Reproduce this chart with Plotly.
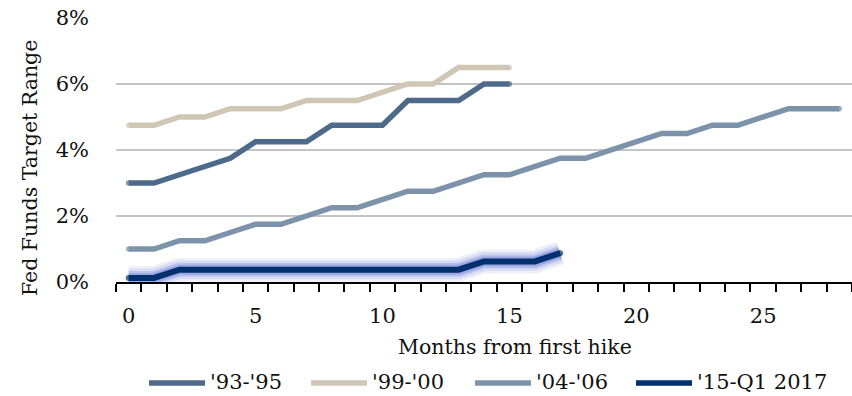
import plotly.graph_objects as go

# Fed funds target (midpoint of range, %) by months since the first hike
series_names = ["'93-'95", "'99-'00", "'04-'06", "'15-Q1 2017"]
rates_93_95 = [3.0, 3.0, 3.25, 3.5, 3.75, 4.25, 4.25, 4.25, 4.75, 4.75, 4.75,
               5.5, 5.5, 5.5, 6.0, 6.0]
rates_99_00 = [4.75, 4.75, 5.0, 5.0, 5.25, 5.25, 5.25, 5.5, 5.5, 5.5, 5.75,
               6.0, 6.0, 6.5, 6.5, 6.5]
rates_04_06 = [1.0, 1.0, 1.25, 1.25, 1.5, 1.75, 1.75, 2.0, 2.25, 2.25, 2.5,
               2.75, 2.75, 3.0, 3.25, 3.25, 3.5, 3.75, 3.75, 4.0, 4.25, 4.5,
               4.5, 4.75, 4.75, 5.0, 5.25, 5.25, 5.25]
rates_15_17 = [0.125, 0.125, 0.375, 0.375, 0.375, 0.375, 0.375, 0.375, 0.375,
               0.375, 0.375, 0.375, 0.375, 0.375, 0.625, 0.625, 0.625, 0.875]

x_tick_labels = [0, 5, 10, 15, 20, 25]
y_tick_values = [0, 2, 4, 6, 8]

colors = ["#4e6a8b", "#d0c6b5", "#7d93aa", "#00306e"]
FONT = "DejaVu Serif"
TXT = "#111111"

# plot-area geometry in pixels
W, H = 852, 396
L, R, T, B = 116, 0, 18, 114
PW, PH = W - L - R, H - T - B


def px_to_paper(px, py):
    return (px - L) / PW, (H - B - py) / PH


fig = go.Figure()

all_series = [rates_93_95, rates_99_00, rates_04_06, rates_15_17]

# soft glow beneath the current cycle
glow_x = list(range(len(rates_15_17)))
for w, a in [(24, 0.09), (19, 0.13), (14, 0.21), (10, 0.30)]:
    fig.add_trace(go.Scatter(
        x=glow_x, y=rates_15_17, mode="lines",
        line=dict(color=f"rgba(75,100,205,{a})", width=w),
        hoverinfo="skip", showlegend=False))

for name, vals, col in zip(series_names, all_series, colors):
    lw = 6 if name.startswith("'15") else 5.5
    n = len(vals)
    # round the line ends with a dot at the first and last point
    end_sizes = [lw if i in (0, n - 1) else 0 for i in range(n)]
    fig.add_trace(go.Scatter(
        x=list(range(n)), y=vals, mode="lines+markers", name=name,
        line=dict(color=col, width=lw),
        marker=dict(color=col, size=end_sizes, line=dict(width=0)),
        showlegend=False))

# legend row
legend_line_x = [149, 311, 475, 636]
legend_y = 383
for name, col, lx in zip(series_names, colors, legend_line_x):
    x0, y0 = px_to_paper(lx, legend_y)
    x1, _ = px_to_paper(lx + 56, legend_y)
    fig.add_shape(type="line", xref="paper", yref="paper",
                  x0=x0, x1=x1, y0=y0, y1=y0,
                  line=dict(color=col, width=5.5))
    tx, ty = px_to_paper(lx + 59, legend_y - 1)
    fig.add_annotation(text=name, xref="paper", yref="paper", x=tx, y=ty,
                       xanchor="left", yanchor="middle", showarrow=False,
                       font=dict(family=FONT, size=21, color=TXT))

# axis titles
ax, ay = px_to_paper(515, 347)
fig.add_annotation(text="Months from first hike", xref="paper", yref="paper",
                   x=ax, y=ay, xanchor="center", yanchor="middle",
                   showarrow=False, font=dict(family=FONT, size=20.5, color=TXT))
bx, by = px_to_paper(30, 168)
fig.add_annotation(text="Fed Funds Target Range", xref="paper", yref="paper",
                   x=bx, y=by, xanchor="center", yanchor="middle", textangle=-90,
                   showarrow=False, font=dict(family=FONT, size=20.5, color=TXT))

fig.update_layout(
    width=W, height=H,
    margin=dict(l=L, r=R, t=T, b=B),
    paper_bgcolor="white", plot_bgcolor="white",
    font=dict(family=FONT, size=21, color=TXT),
    showlegend=False,
    xaxis=dict(
        range=[-0.5, 28.5], tickvals=x_tick_labels,
        ticktext=[str(v) for v in x_tick_labels],
        ticks="", showgrid=False, zeroline=False,
        showline=True, linecolor="#000000", linewidth=2,
        ticklabelstandoff=14,
        minor=dict(tickvals=[i - 0.5 for i in range(30)], ticks="outside",
                   ticklen=8, tickwidth=1.5, tickcolor="#000000",
                   showgrid=False),
        tickfont=dict(family=FONT, size=21, color=TXT),
    ),
    yaxis=dict(
        range=[0, 8], tickvals=y_tick_values,
        ticktext=[f"{v}%" for v in y_tick_values],
        ticks="", showgrid=True, gridcolor="#c4c4c4", gridwidth=1.5,
        zeroline=False, showline=False,
        ticklabelstandoff=26,
        tickfont=dict(family=FONT, size=21, color=TXT),
    ),
)

fig.write_html("out.html")
